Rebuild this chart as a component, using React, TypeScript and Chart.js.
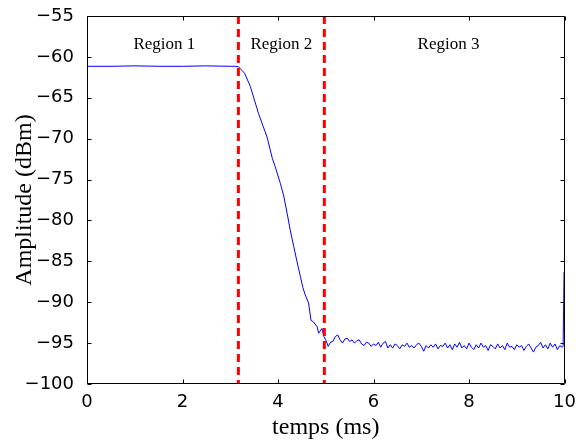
import React, { useEffect, useRef } from 'react';
import { Chart, registerables } from 'chart.js';

Chart.register(...registerables);

// Sampling times (ms)
const times: number[] = [
  0, 0.5, 1.0, 1.5, 2.0, 2.5, 3.0, 3.1,
  3.17, 3.22, 3.3, 3.42, 3.59, 3.77, 3.88, 3.94, 4.05, 4.12, 4.19, 4.26, 4.33, 4.4, 4.47, 4.52, 4.57, 4.64, 4.69, 4.74, 4.82, 4.85, 4.92, 4.96,
  5.0, 5.05, 5.1, 5.15, 5.2, 5.25, 5.3, 5.35, 5.4, 5.45, 5.5, 5.55, 5.6, 5.65, 5.7, 5.75, 5.8, 5.85, 5.9, 5.95,
  6.0, 6.05, 6.1, 6.15, 6.2, 6.25, 6.3, 6.35, 6.4, 6.45, 6.5, 6.55, 6.6, 6.65, 6.7, 6.75, 6.8, 6.85, 6.9, 6.95,
  7.0, 7.05, 7.1, 7.15, 7.2, 7.25, 7.3, 7.35, 7.4, 7.45, 7.5, 7.55, 7.6, 7.65, 7.7, 7.75, 7.8, 7.85, 7.9, 7.95,
  8.0, 8.05, 8.1, 8.15, 8.2, 8.25, 8.3, 8.35, 8.4, 8.45, 8.5, 8.55, 8.6, 8.65, 8.7, 8.75, 8.8, 8.85, 8.9, 8.95,
  9.0, 9.05, 9.1, 9.15, 9.2, 9.25, 9.3, 9.35, 9.4, 9.45, 9.5, 9.55, 9.6, 9.65, 9.7, 9.75, 9.8, 9.85, 9.9, 9.95,
  9.97, 9.99,
];

// Amplitude (dBm)
const amplitude: number[] = [
  -61.15, -61.15, -61.1, -61.15, -61.15, -61.1, -61.15, -61.15,
  -61.2, -61.5, -62.0, -63.6, -66.9, -69.8, -72.4, -73.4, -75.5, -77.0, -79.1, -81.3, -83.2, -85.1, -86.9, -88.2, -89.1, -90.1, -92.2, -92.4, -93.0, -93.8, -93.2, -94.2,
  -94.6, -95.4, -94.9, -94.8, -94.2, -94.0, -94.6, -95.0, -94.5, -94.4, -94.8, -94.6, -95.0, -94.7, -94.6, -95.1, -95.3, -94.9, -95.0, -95.4,
  -95.1, -95.3, -94.9, -95.5, -95.0, -94.8, -95.6, -95.2, -95.6, -95.1, -95.3, -95.7, -95.2, -95.4, -95.0, -95.5, -95.3, -95.6, -95.2, -95.0,
  -95.4, -96.0, -95.3, -95.6, -95.2, -95.5, -95.1, -95.7, -95.3, -95.4, -95.0, -95.6, -95.2, -95.8, -95.1, -95.5, -94.9, -95.6, -95.3, -95.7,
  -95.0, -95.5, -95.8, -95.2, -95.6, -95.0, -95.5, -95.3, -95.9, -95.2, -95.4, -95.7, -95.1, -95.6, -95.3, -95.8, -95.0, -95.5, -95.4, -95.8,
  -95.2, -95.5, -95.3, -95.9, -95.4, -95.1, -95.6, -96.1, -95.5, -95.3, -94.9, -95.6, -95.2, -95.7, -95.0, -95.5, -95.1, -95.8, -95.3, -95.5,
  -95.4, -86.3,
];

const regionBounds: number[] = [3.17, 4.97];
const regionLabels: string[] = ['Region 1', 'Region 2', 'Region 3'];
const regionLabelX: number[] = [1.62, 4.07, 7.57];
const regionLabelY = -58.5;

const xMin = 0;
const xMax = 10;
const xStep = 2;
const yMin = -100;
const yMax = -55;
const yStep = 5;

const xTitle = 'temps (ms)';
const yTitle = 'Amplitude (dBm)';

const framePlugin = {
  id: 'frameTicks',
  afterDatasetsDraw(chart: any) {
    const { ctx, scales } = chart;
    const xs = scales.x;
    const ys = scales.y;
    ctx.save();
    ctx.fillStyle = '#000';
    ctx.font = '17px "Liberation Serif"';
    ctx.textAlign = 'center';
    ctx.textBaseline = 'middle';
    regionLabels.forEach((lab, i) => {
      ctx.fillText(lab, xs.getPixelForValue(regionLabelX[i]), ys.getPixelForValue(regionLabelY));
    });
    ctx.restore();
  },
  afterDraw(chart: any) {
    const { ctx, chartArea, scales } = chart;
    const { left, right, top, bottom } = chartArea;
    ctx.save();
    ctx.strokeStyle = '#000';
    ctx.lineWidth = 1;
    const L = Math.round(left) + 0.5;
    const R = Math.round(right) - 0.5;
    const T = Math.round(top) + 0.5;
    const B = Math.round(bottom) - 0.5;
    ctx.beginPath();
    ctx.rect(L, T, R - L, B - T);
    ctx.stroke();
    const tl = 4;
    ctx.beginPath();
    scales.x.ticks.forEach((t: any) => {
      const px = Math.round(scales.x.getPixelForValue(t.value)) + 0.5;
      ctx.moveTo(px, B);
      ctx.lineTo(px, B - tl);
      ctx.moveTo(px, T);
      ctx.lineTo(px, T + tl);
    });
    scales.y.ticks.forEach((t: any) => {
      const py = Math.round(scales.y.getPixelForValue(t.value)) + 0.5;
      ctx.moveTo(L, py);
      ctx.lineTo(L + tl, py);
      ctx.moveTo(R, py);
      ctx.lineTo(R - tl, py);
    });
    ctx.stroke();
    ctx.restore();
  },
};

export default function App() {
  const ref = useRef<HTMLCanvasElement | null>(null);

  useEffect(() => {
    document.body.style.margin = '0';
    const canvas = ref.current;
    if (!canvas) return;

    const mainData = times.map((t, i) => ({ x: t, y: amplitude[i] }));
    const boundDatasets = regionBounds.map((b) => ({
      data: [
        { x: b, y: yMax },
        { x: b, y: yMin },
      ],
      borderColor: '#ff0000',
      borderWidth: 3,
      borderDash: [8, 5],
      pointRadius: 0,
      fill: false,
      tension: 0,
    }));

    const chart = new Chart(canvas, {
      type: 'line',
      data: {
        datasets: [
          ...boundDatasets,
          {
            data: mainData,
            borderColor: '#0000ff',
            borderWidth: 1,
            pointRadius: 0,
            fill: false,
            tension: 0,
          },
        ],
      },
      options: {
        responsive: false,
        animation: false,
        devicePixelRatio: 1,
        layout: { padding: { top: 16, right: 5, left: 0, bottom: 0 } },
        plugins: {
          legend: { display: false },
          tooltip: { enabled: false },
        },
        scales: {
          x: {
            type: 'linear',
            min: xMin,
            max: xMax,
            grid: { display: false },
            border: { display: false },
            ticks: {
              stepSize: xStep,
              color: '#000',
              padding: 0,
              font: { family: '"DejaVu Sans"', size: 18 },
              maxRotation: 0,
            },
            title: {
              display: true,
              text: xTitle,
              color: '#000',
              font: { family: '"Liberation Serif"', size: 24 },
              padding: { top: 0, bottom: 2 },
            },
            afterFit: (s: any) => {
              s.height = 60;
            },
          },
          y: {
            type: 'linear',
            min: yMin,
            max: yMax,
            grid: { display: false },
            border: { display: false },
            ticks: {
              stepSize: yStep,
              color: '#000',
              padding: 5,
              font: { family: '"DejaVu Sans"', size: 18 },
              callback: (v: any) => String(v).replace('-', '\u2212'),
            },
            title: {
              display: true,
              text: yTitle,
              color: '#000',
              font: { family: '"Liberation Serif"', size: 24 },
              padding: { top: 10, bottom: 0 },
            },
            afterFit: (s: any) => {
              s.width = 87;
            },
          },
        },
      },
      plugins: [framePlugin],
    });

    return () => chart.destroy();
  }, []);

  return (
    <div style={{ width: 576, height: 444, position: 'relative' }}>
      <canvas ref={ref} width={576} height={444} />
    </div>
  );
}
